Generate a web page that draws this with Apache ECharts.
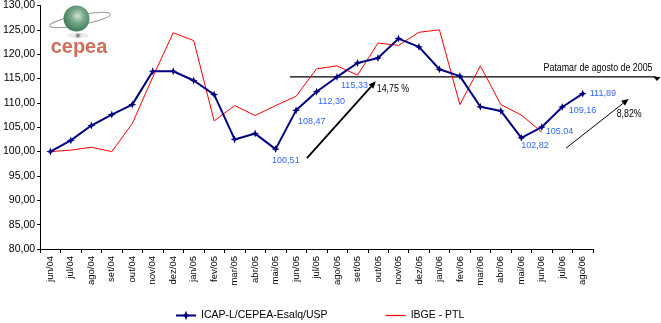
<!DOCTYPE html>
<html>
<head>
<meta charset="utf-8">
<script src="https://cdn.jsdelivr.net/npm/echarts@6/dist/echarts.min.js"></script>
<style>
  html, body { margin: 0; padding: 0; background: #fff; }
  #chart { width: 661px; height: 323px; }
</style>
</head>
<body>
<div id="chart"></div>
<script>
// meses de jun/04 a ago/06
const meses = [
  "jun/04", "jul/04", "ago/04", "set/04", "out/04", "nov/04", "dez/04",
  "jan/05", "fev/05", "mar/05", "abr/05", "mai/05", "jun/05", "jul/05",
  "ago/05", "set/05", "out/05", "nov/05", "dez/05", "jan/06", "fev/06",
  "mar/06", "abr/06", "mai/06", "jun/06", "jul/06", "ago/06"
];

// índice ICAP-L/CEPEA
const icap = [
  100.0, 102.3, 105.35, 107.6, 109.65, 116.5, 116.5,
  114.6, 111.7, 102.5, 103.7, 100.51, 108.47, 112.3,
  115.33, 118.2, 119.2, 123.2, 121.5, 116.9, 115.5,
  109.2, 108.35, 102.82, 105.04, 109.16, 111.89
];

// índice IBGE - PTL (termina em jun/06)
const ibge = [
  100.0, 100.3, 100.9, 100.0, 105.75, 115.3, 124.4,
  122.8, 106.3, 109.45, 107.4, 109.45, 111.35, 117.0,
  117.6, 115.7, 122.3, 121.8, 124.5, 125.0, 109.65,
  117.6, 109.65, 107.5, 104.0, null, null
];

// pontos do ICAP com rótulo de valor
const rotulados = [11, 12, 13, 14, 23, 24, 25, 26];

// patamar de agosto de 2005 e variações marcadas pelas setas
const patamar = 115.33;
const variacoes = ["14,75 %", "8,82%"];

const fmt = v => v.toFixed(2).replace(".", ",");

// deslocamento (px) de cada rótulo em relação ao ponto
const rotuloDesloc = {
  11: [-3.5, 11], 12: [2, 11], 13: [1.5, 10], 14: [4, 8.5],
  23: [0, 8], 24: [4, 4], 25: [6.5, 3.5], 26: [7, 0]
};

const fonte = "Liberation Sans, Arial, sans-serif";
const SYM = 8;
const icapData = icap.map((v, i) => {
  if (rotulados.indexOf(i) < 0) return v;
  const d = rotuloDesloc[i];
  return {
    value: v,
    label: {
      show: true,
      position: [SYM / 2 + d[0], SYM / 2 + d[1]],
      align: "left",
      verticalAlign: "middle",
      color: "#3366ff",
      fontSize: 9,
      fontFamily: fonte,
      formatter: p => fmt(p.value)
    }
  };
});

const chart = echarts.init(document.getElementById("chart"));

chart.setOption({
  animation: false,
  backgroundColor: "#fff",
  grid: { left: 38, right: 68, top: 5, bottom: 74 },
  legend: {
    left: 175,
    top: 310,
    padding: 0,
    itemWidth: 20,
    itemHeight: 12,
    itemGap: 58,
    textStyle: { fontSize: 10.5, color: "#000", fontFamily: fonte },
    data: [
      { name: "ICAP-L/CEPEA-Esalq/USP" },
      // só a linha vermelha, sem marcador
      {
        name: "IBGE - PTL",
        icon: "path://M0,0 H20 V1.2 H0 Z",
        itemStyle: { color: "#ff0000", borderColor: "#ff0000", borderWidth: 0 }
      }
    ]
  },
  xAxis: {
    type: "category",
    data: meses,
    boundaryGap: true,
    axisLine: { lineStyle: { color: "#000", width: 1 } },
    axisTick: { show: true, length: 4, interval: 0, lineStyle: { color: "#000" } },
    axisLabel: {
      rotate: 90,
      interval: 0,
      margin: 7,
      fontSize: 9.5,
      color: "#000",
      fontFamily: fonte
    },
    splitLine: { show: false }
  },
  yAxis: {
    type: "value",
    min: 80,
    max: 130,
    interval: 5,
    axisLine: { show: true, lineStyle: { color: "#000", width: 1 } },
    axisTick: { show: true, length: 3, lineStyle: { color: "#000" } },
    axisLabel: {
      margin: 5,
      fontSize: 10.5,
      color: "#000",
      fontFamily: fonte,
      formatter: v => fmt(v)
    },
    splitLine: { show: false }
  },
  series: [
    {
      name: "ICAP-L/CEPEA-Esalq/USP",
      type: "line",
      data: icapData,
      z: 3,
      color: "#000080",
      symbol: "path://M5,0 L6.4,3.6 L10,5 L6.4,6.4 L5,10 L3.6,6.4 L0,5 L3.6,3.6 Z",
      symbolSize: SYM,
      lineStyle: { color: "#000080", width: 2 },
      itemStyle: { color: "#000080" }
    },
    {
      name: "IBGE - PTL",
      type: "line",
      data: ibge,
      z: 2,
      color: "#ff0000",
      symbol: "none",
      lineStyle: { color: "#ff0000", width: 1 },
      itemStyle: { color: "#ff0000" }
    }
  ]
});

// posição em pixels a partir de índice (fracionário) do mês e valor
function px(i, v) {
  const a = chart.convertToPixel({ xAxisIndex: 0 }, 0);
  const b = chart.convertToPixel({ xAxisIndex: 0 }, 1);
  return [a + (b - a) * i, chart.convertToPixel({ yAxisIndex: 0 }, v)];
}

// seta com ponta triangular
function seta(p0, p1, w, head) {
  const ang = Math.atan2(p1[1] - p0[1], p1[0] - p0[0]);
  const hx = Math.cos(ang), hy = Math.sin(ang);
  const nx = -hy, ny = hx;
  const base = [p1[0] - hx * head, p1[1] - hy * head];
  return [
    {
      type: "line",
      shape: { x1: p0[0], y1: p0[1], x2: base[0], y2: base[1] },
      style: { stroke: "#000", lineWidth: w }
    },
    {
      type: "polygon",
      shape: {
        points: [
          p1,
          [base[0] + nx * head * 0.45, base[1] + ny * head * 0.45],
          [base[0] - nx * head * 0.45, base[1] - ny * head * 0.45]
        ]
      },
      style: { fill: "#000" }
    }
  ];
}

// texto estreito das anotações
function nota(x, y, txt, align, size) {
  return {
    type: "text",
    x: x,
    y: y,
    scaleX: 0.84,
    style: { text: txt, align: align, verticalAlign: "middle", fontSize: size, fontFamily: fonte, fill: "#000" }
  };
}

const pIni = px(11.7, patamar);
const pFim = px(29.6, patamar);
const s1a = px(12.53, 98.65), s1b = px(15.89, 114.43);
const s2a = px(25.18, 100.7), s2b = px(28.24, 110.8);

const anot = [
  {
    type: "line",
    shape: { x1: pIni[0], y1: pIni[1], x2: pFim[0], y2: pFim[1] },
    style: { stroke: "#000", lineWidth: 1.2 }
  },
  {
    type: "polygon",
    shape: { points: [[pFim[0] - 3, pFim[1]], [pFim[0] + 4, pFim[1]], [pFim[0] + 0.5, pFim[1] + 4]] },
    style: { fill: "#000" }
  },
  nota(pFim[0] - 4, pFim[1] - 9, "Patamar de agosto de 2005", "right", 10.5),
  ...seta(s1a, s1b, 1.8, 7),
  nota(s1b[0] + 1, s1b[1] + 8, variacoes[0], "left", 10.5),
  ...seta(s2a, s2b, 1, 7),
  nota(s2b[0] - 12, s2b[1] + 15, variacoes[1], "left", 10.5)
];

// logotipo CEPEA no canto superior esquerdo
const logo = {
  type: "group",
  x: 0,
  y: 0,
  children: [
    {
      type: "ellipse",
      shape: { cx: 78, cy: 35.5, rx: 11, ry: 2.8 },
      style: {
        fill: new echarts.graphic.RadialGradient(0.5, 0.5, 0.6, [
          { offset: 0, color: "#555" },
          { offset: 1, color: "rgba(150,150,150,0.2)" }
        ])
      }
    },
    {
      type: "ellipse",
      rotation: 0.19,
      originX: 80,
      originY: 20,
      shape: { cx: 80, cy: 20, rx: 31, ry: 5 },
      style: { fill: "none", stroke: "#999", lineWidth: 1 }
    },
    {
      type: "circle",
      shape: { cx: 76.5, cy: 18.5, r: 13 },
      style: {
        fill: new echarts.graphic.RadialGradient(0.55, 0.4, 0.7, [
          { offset: 0, color: "#cfe3d2" },
          { offset: 0.4, color: "#74a585" },
          { offset: 1, color: "#2f6e4c" }
        ])
      }
    },
    {
      type: "text",
      x: 79,
      y: 47,
      style: {
        text: "cepea",
        align: "center",
        verticalAlign: "middle",
        fontSize: 20,
        fontWeight: "bold",
        fontFamily: fonte,
        fill: "#cf6e5a"
      }
    }
  ]
};

chart.setOption({ graphic: [logo, ...anot] });
</script>
</body>
</html>
